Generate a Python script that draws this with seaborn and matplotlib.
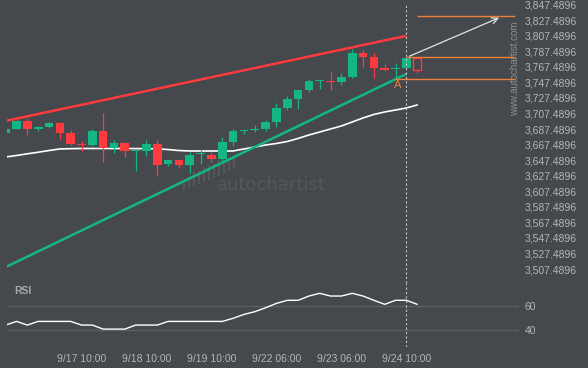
import matplotlib
matplotlib.use('Agg')
import numpy as np
import matplotlib.pyplot as plt
import seaborn as sns

# candle data (4h bars)
opens = [3682.8, 3687.6, 3697.9, 3687.6, 3690.2, 3695.3, 3682.4, 3668.7, 3667.4, 3685.0,
         3663.5, 3669.6, 3659.3, 3659.7, 3668.3, 3642.6, 3647.7, 3641.7, 3655.0, 3654.1,
         3649.0, 3671.3, 3685.0, 3686.3, 3687.6, 3696.6, 3714.6, 3726.2, 3737.8, 3749.3,
         3749.3, 3748.1, 3754.5, 3785.4, 3780.2, 3766.1, 3764.8, 3766.1, 3778.9]
highs = [3688.0, 3699.5, 3701.4, 3691.8, 3696.6, 3696.6, 3685.9, 3672.2, 3687.6, 3708.2,
         3673.1, 3670.9, 3660.6, 3673.4, 3673.4, 3647.7, 3647.7, 3658.4, 3661.9, 3658.4,
         3677.3, 3687.0, 3686.3, 3692.7, 3699.2, 3720.7, 3730.0, 3737.8, 3751.9, 3750.6,
         3760.9, 3759.6, 3790.5, 3789.2, 3785.4, 3771.2, 3772.5, 3778.9, 3778.9]
lows = [3682.0, 3687.6, 3679.5, 3685.0, 3688.9, 3674.3, 3666.6, 3659.3, 3666.1, 3645.5,
        3656.3, 3651.9, 3633.9, 3653.3, 3627.5, 3640.4, 3637.8, 3631.4, 3643.0, 3645.5,
        3646.4, 3665.7, 3681.2, 3683.7, 3685.4, 3690.5, 3712.0, 3712.7, 3735.2, 3739.1,
        3737.8, 3744.2, 3753.2, 3767.4, 3753.2, 3762.2, 3751.9, 3766.1, 3759.6]
closes = [3687.2, 3697.9, 3687.6, 3690.2, 3695.3, 3682.4, 3668.7, 3667.4, 3685.0, 3663.5,
          3669.6, 3659.7, 3660.6, 3668.3, 3641.7, 3647.7, 3641.7, 3654.1, 3655.8, 3649.0,
          3670.9, 3685.0, 3686.3, 3687.6, 3696.6, 3714.6, 3726.2, 3737.8, 3749.3, 3750.6,
          3748.1, 3754.5, 3785.4, 3780.2, 3766.1, 3763.5, 3766.1, 3778.9, 3763.5]
ma = [3651.6, 3653.5, 3655.7, 3657.7, 3659.9, 3661.9, 3662.3, 3662.5, 3662.5, 3662.5,
      3662.5, 3662.5, 3662.4, 3662.3, 3662.0, 3661.2, 3659.9, 3659.3, 3659.3, 3659.3,
      3659.3, 3659.3, 3661.9, 3664.4, 3667.0, 3669.0, 3671.5, 3675.4, 3679.9, 3683.7,
      3687.6, 3691.5, 3696.6, 3701.8, 3706.3, 3709.5, 3712.0, 3714.6, 3718.5]
rsi = [44.2, 47.3, 44.2, 47.3, 47.3, 47.3, 47.3, 44.2, 44.2, 40.8,
       40.8, 40.8, 44.2, 44.2, 44.2, 47.3, 47.3, 47.3, 47.3, 47.3,
       47.3, 49.9, 53.2, 55.5, 58.8, 62.5, 65.1, 65.1, 68.7, 71.0,
       68.7, 68.7, 71.0, 68.7, 65.1, 61.7, 65.1, 65.1, 61.7]

tick_idx = [7, 13, 19, 25, 31, 37]
tick_labels = ['9/17 10:00', '9/18 10:00', '9/19 10:00', '9/22 06:00', '9/23 06:00', '9/24 10:00']
price_ticks = [3507.4896, 3527.4896, 3547.4896, 3567.4896, 3587.4896, 3607.4896,
               3627.4896, 3647.4896, 3667.4896, 3687.4896, 3707.4896, 3727.4896,
               3747.4896, 3767.4896, 3787.4896, 3807.4896, 3827.4896, 3847.4896]

# channel lines and pattern levels
red_x, red_y = [0, 37], [3698.0, 3807.4]
green_x, green_y = [0, 37], [3510.0, 3758.4]
target_level, upper_level, lower_level = 3832.9, 3779.8, 3751.5

BG = '#45484d'
GREEN = '#14b784'
RED = '#ff3b3f'
ORANGE = '#ee7f3b'
TXT = '#b2b5b9'
WM = '#54575c'

sns.set_theme(style='dark', rc={'axes.facecolor': BG, 'figure.facecolor': BG})
plt.rcParams['font.family'] = ['Liberation Sans', 'DejaVu Sans']

fig = plt.figure(figsize=(5.88, 3.68), dpi=100, facecolor=BG)
ax = fig.add_axes([7 / 588, 1 - 283 / 368, 512 / 588, 283 / 368])
ax2 = fig.add_axes([7 / 588, 1 - 347 / 368, 512 / 588, 64 / 368])

x = np.arange(len(opens))
o = np.array(opens); c = np.array(closes)
cols = [GREEN if cc >= oo else RED for oo, cc in zip(o, c)]

# watermark (logo + name), placed in pixel terms of the price panel
ax.text((217 - 7) / 512, (283 - 185) / 283, 'autochartist', transform=ax.transAxes,
        fontsize=13, color=WM, va='center', ha='left', family='DejaVu Sans', zorder=0)
logo_x = [184, 189, 194, 199, 204, 209, 214, 219, 224, 229, 234]
logo_top = [181, 176, 172, 171, 167, 165, 164, 160, 160, 158, 156]
logo_bot = [190, 188, 186, 184, 182, 180, 178, 176, 174, 171, 168]
ax.vlines([(p - 7) / 512 for p in logo_x], [(283 - p) / 283 for p in logo_bot],
          [(283 - p) / 283 for p in logo_top], transform=ax.transAxes,
          color=WM, lw=1.6, zorder=0)

# candles
ax.vlines(x[:-1], lows[:-1], highs[:-1], colors=cols[:-1], lw=0.9, zorder=3)
bottoms = np.minimum(o, c)
heights = np.maximum(np.abs(c - o), 1.3)
ax.bar(x[:-1], heights[:-1], bottom=bottoms[:-1], width=0.8, color=cols[:-1],
       linewidth=0, zorder=3)
ax.vlines(x[-1], lows[-1], bottoms[-1], colors=RED, lw=0.9, zorder=3)
ax.bar(x[-1], heights[-1], bottom=bottoms[-1], width=0.75, facecolor=BG,
       edgecolor=RED, linewidth=1, zorder=3)

sns.lineplot(x=x, y=ma, ax=ax, color='white', lw=1.2, zorder=2)

ax.plot(red_x, red_y, color=RED, lw=1.8, zorder=4, solid_capstyle='butt')
ax.plot(green_x, green_y, color=GREEN, lw=1.8, zorder=4, solid_capstyle='butt')

ax.hlines(target_level, 38, 47, color=ORANGE, lw=1, zorder=4)
ax.hlines(upper_level, 37, 47, color=ORANGE, lw=1, zorder=4)
ax.hlines(lower_level, 35.95, 47, color=ORANGE, lw=1, zorder=4)
ax.annotate('', xy=(45.8, 3832.1), xytext=(37.05, upper_level),
            arrowprops=dict(arrowstyle='->', color='#e4e4e4', lw=0.9,
                            mutation_scale=11), zorder=5)
ax.text(36.2, 3744.2, 'A', color=ORANGE, fontsize=8, ha='center', va='center')

ax.text(0.992, 0.756, 'www.autochartist.com', transform=ax.transAxes, rotation=90,
        fontsize=7, color='#8c8f94', ha='center', va='center')

ax.axvline(37, ymin=0, ymax=0.983, color='#c4c4c4', lw=0.8, ls=(0, (2, 2)), zorder=5)
ax2.axvline(37, color='#c4c4c4', lw=0.8, ls=(0, (2, 2)), zorder=5)

ax.set_xlim(0.12, 47.4)
ax.set_ylim(3489.5, 3853.5)
ax.yaxis.tick_right()
ax.set_yticks(price_ticks)
ax.set_yticklabels([f'{v:,.4f}' for v in price_ticks])
ax.tick_params(axis='y', length=0, pad=4, labelsize=7.5, labelcolor=TXT)
ax.set_xticks([])
ax.set_xlabel(''); ax.set_ylabel('')

# RSI panel
ax2.axhline(60, color='#5c5f64', lw=1, zorder=1)
ax2.axhline(40, color='#5c5f64', lw=1, zorder=1)
sns.lineplot(x=x, y=rsi, ax=ax2, color='white', lw=1, zorder=3)
ax2.text(0.0137, 0.875, 'RSI', transform=ax2.transAxes, fontsize=7.5,
         fontweight='bold', color='#a6a9ae', va='center', ha='left')
ax2.set_xlim(0.12, 47.4)
ax2.set_ylim(25.7, 79.7)
ax2.yaxis.tick_right()
ax2.set_yticks([40, 60])
ax2.set_yticklabels(['40', '60'])
ax2.set_xticks(tick_idx)
ax2.set_xticklabels(tick_labels)
ax2.tick_params(axis='both', length=0, labelsize=7.5, labelcolor=TXT)
ax2.tick_params(axis='y', pad=4)
ax2.tick_params(axis='x', pad=5)
ax2.set_xlabel(''); ax2.set_ylabel('')

for a in (ax, ax2):
    a.grid(False)
    for s in a.spines.values():
        s.set_visible(False)

fig.savefig('out.png', dpi=100, facecolor=BG)
